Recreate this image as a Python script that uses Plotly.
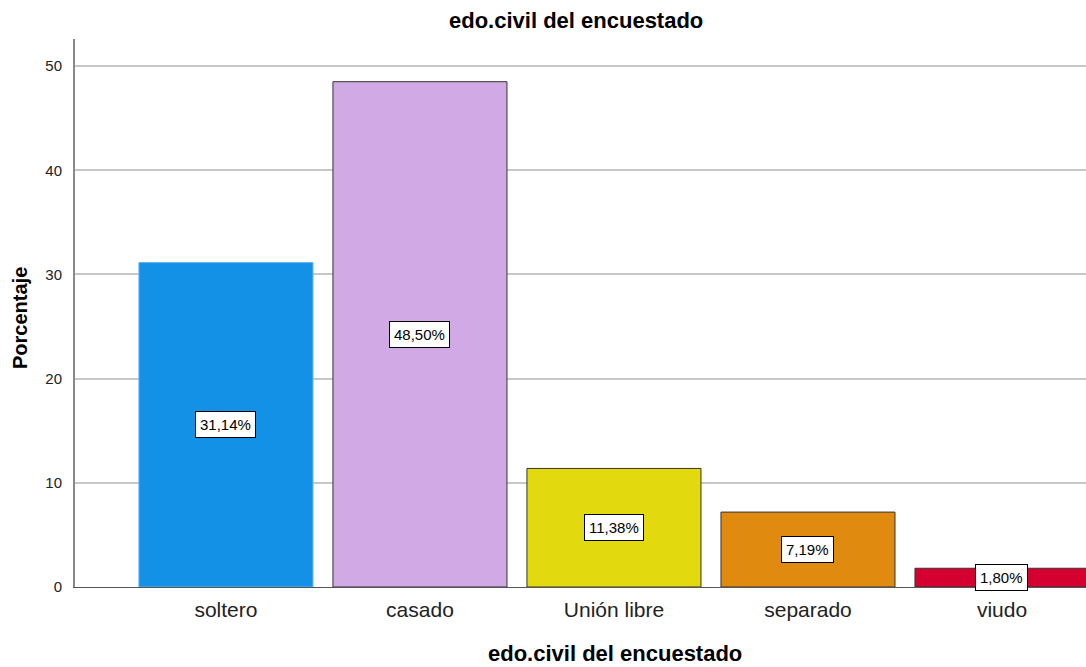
import plotly.graph_objects as go

categories = ["soltero", "casado", "Unión libre", "separado", "viudo"]
values = [31.14, 48.50, 11.38, 7.19, 1.80]
labels = ["31,14%", "48,50%", "11,38%", "7,19%", "1,80%"]
colors = ["#1391E6", "#D1AAE5", "#E3D90F", "#E08A10", "#D4002F"]
edge_colors = ["#5DB3F0", "#333333", "#333333", "#333333", "#333333"]

FONT = "Liberation Sans, Arial, sans-serif"

fig = go.Figure()
fig.add_trace(go.Bar(
    x=list(range(len(categories))),
    y=values,
    width=0.897,
    marker=dict(color=colors, line=dict(color=edge_colors, width=1)),
    hoverinfo="skip",
))

for i, (v, lab) in enumerate(zip(values, labels)):
    fig.add_annotation(
        x=i, y=v / 2, text=lab, showarrow=False,
        font=dict(family=FONT, size=15, color="black"),
        bgcolor="white", bordercolor="black", borderwidth=1, borderpad=4,
    )

# Titles placed as paper annotations
fig.add_annotation(
    xref="paper", yref="paper", x=(576 - 75) / 1011, y=(587 - 20) / 548,
    yanchor="middle", xanchor="center", showarrow=False,
    text="<b>edo.civil del encuestado</b>",
    font=dict(family=FONT, size=22, color="black"),
)
fig.add_annotation(
    xref="paper", yref="paper", x=(615 - 75) / 1011, y=-(653 - 587) / 548,
    yanchor="middle", xanchor="center", showarrow=False,
    text="<b>edo.civil del encuestado</b>",
    font=dict(family=FONT, size=22, color="black"),
)
fig.add_annotation(
    xref="paper", yref="paper", x=-(75 - 20) / 1011, y=(587 - 318) / 548,
    yanchor="middle", xanchor="center", showarrow=False, textangle=-90,
    text="<b>Porcentaje</b>",
    font=dict(family=FONT, size=20, color="black"),
)

fig.update_layout(
    width=1086, height=667,
    margin=dict(l=75, r=0, t=39, b=80),
    paper_bgcolor="white", plot_bgcolor="white",
    showlegend=False,
    xaxis=dict(
        tickmode="array", tickvals=list(range(len(categories))), ticktext=categories,
        range=[-0.778, 4.433], showgrid=False, zeroline=False,
        showline=True, linecolor="#555555", linewidth=1,
        ticks="", ticklabelstandoff=4,
        tickfont=dict(family=FONT, size=21, color="#222222"),
    ),
    yaxis=dict(
        range=[0, 52.6], tickvals=[0, 10, 20, 30, 40, 50],
        showgrid=True, gridcolor="#C8C8C8", gridwidth=1.5,
        zeroline=False, showline=True, linecolor="#888888", linewidth=2,
        ticks="", ticklabelstandoff=8,
        tickfont=dict(family=FONT, size=15, color="#222222"),
    ),
)

fig.write_html("out.html")
